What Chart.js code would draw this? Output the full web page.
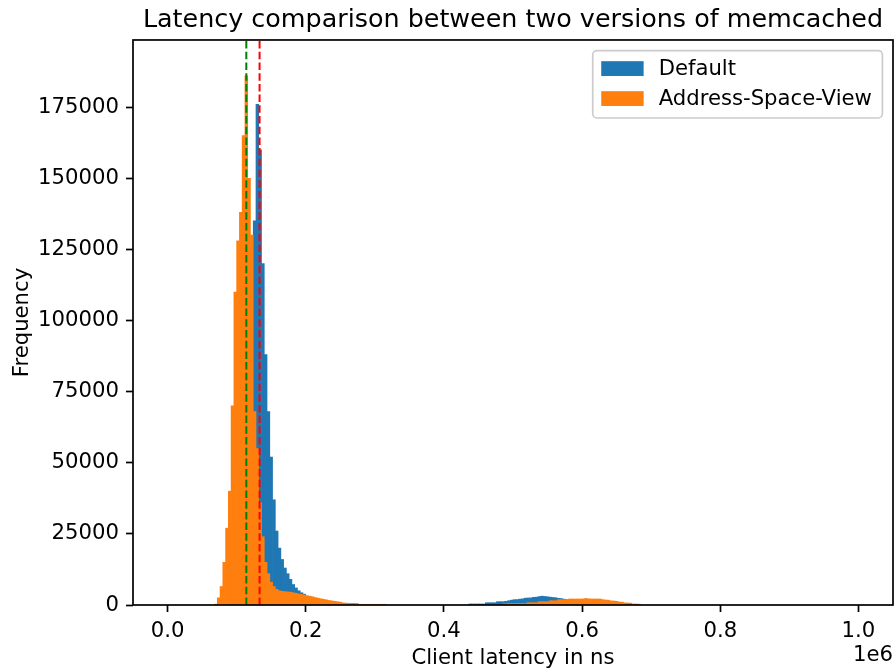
<!DOCTYPE html>
<html><head><meta charset="utf-8">
<script src="https://cdn.jsdelivr.net/npm/chart.js@4/dist/chart.umd.min.js"></script>
<style>html,body{margin:0;padding:0;background:#fff}canvas{display:block}</style>
</head><body>
<canvas id="c" width="894" height="672"></canvas>
<script>
// Histogram bins: left edge of bin 0 and width (ns)
const binStart = 68000;
const binWidth = 4000;

// Counts per bin
const defaultCounts = [
  0,0,0,0,0,1000,5000,15000,30000,50000,
  75000,100000,110000,125000,135000,176000,160000,120000,88000,68000,
  52000,37000,26000,20000,16000,13000,11000,9000,7200,6000,
  5000,4300,3800,3000,2500,2000,1600,1200,900,600,
  400,250,150,100,0,0,0,0,0,0,
  0,0,0,0,0,0,0,0,0,0,
  0,0,0,0,0,0,0,0,0,0,
  0,0,0,0,0,0,0,0,0,0,
  0,0,0,0,0,0,0,0,0,0,
  0,0,350,350,350,350,350,350,800,800,
  800,800,1170,1170,1170,1300,1500,1700,1870,1900,
  2050,2150,2400,2460,2500,2700,2750,2950,3100,3000,
  2900,2750,2650,2550,2350,2250,2050,1900,1700,1550,
  1400,1200,1050,900,750,600,450,350,250,150,
  80,0,0,0,0,0,0,0,0,0,
  0,0,0,0,0,0
];
const asvCounts = [
  300,2500,6500,15000,27000,40000,70000,110000,128000,138000,
  165000,186000,150000,130000,68000,55000,36000,24000,15000,11000,
  8000,6500,5500,5000,4800,4700,4600,4500,4300,4100,
  3900,3700,3500,3300,3100,2900,2600,2400,2200,2000,
  1800,1600,1450,1300,1150,1000,750,650,600,600,
  600,550,250,250,250,250,250,250,250,250,
  250,250,0,0,0,0,0,0,0,0,
  0,0,0,0,0,0,0,0,0,0,
  0,0,0,0,0,0,0,0,0,0,
  0,0,0,0,0,0,0,0,0,0,
  0,0,0,0,350,400,500,500,500,500,
  500,500,500,800,800,800,800,1170,1170,1170,
  1170,1500,1500,1500,1870,1870,1870,2000,2100,2100,
  2100,2100,2100,2150,2300,2150,2100,2100,2100,2100,
  1900,1750,1700,1450,1400,1300,1050,1000,750,700,
  650,350,350,300,0,0
];

const seriesLabels = ['Default', 'Address-Space-View'];
const seriesColors = ['#1f77b4', '#ff7f0e'];

// Vertical dashed marker lines (ns)
const markerValues = [114000, 133200];
const markerColors = ['#008000', '#ff0000'];

const xTickValues = [0, 200000, 400000, 600000, 800000, 1000000];
const yTickValues = [0, 25000, 50000, 75000, 100000, 125000, 150000, 175000];
const xRange = [-50000, 1050000];
const yRange = [0, 198600];

const titleText = 'Latency comparison between two versions of memcached';
const xTitle = 'Client latency in ns';
const yTitle = 'Frequency';
const xOffsetText = '1e6';

function toPoints(counts) {
  const pts = [];
  counts.forEach((c, i) => { if (c > 0) pts.push({ x: binStart + binWidth * (i + 0.5), y: c }); });
  return pts;
}

Chart.defaults.font.family = "'DejaVu Sans', sans-serif";
Chart.defaults.color = '#000';

const FS = 21.2;

const extras = {
  id: 'extras',
  afterDatasetsDraw(chart) {
    const { ctx, chartArea: a } = chart;
    ctx.save();
    ctx.strokeStyle = '#000';
    ctx.lineWidth = 1.7;
    ctx.strokeRect(a.left, a.top, a.right - a.left, a.bottom - a.top);
    ctx.restore();
  },
  afterDraw(chart) {
    const { ctx, chartArea: a } = chart;
    ctx.save();
    ctx.font = FS + "px 'DejaVu Sans'";
    ctx.fillStyle = '#000';
    ctx.textAlign = 'right';
    ctx.textBaseline = 'alphabetic';
    ctx.fillText(xOffsetText, a.right, 661);

    const pad = 8.5, handleW = 42.4, handleH = 14.8, gap = 17;
    const tw = Math.max(...seriesLabels.map(t => ctx.measureText(t).width));
    const right = a.right - 10.6;
    const top = a.top + 10.6;
    const width = pad + handleW + gap + tw + pad;
    const left = right - width;
    const height = 67.4;
    const r = 4.2;
    ctx.beginPath();
    ctx.moveTo(left + r, top);
    ctx.lineTo(right - r, top);
    ctx.arcTo(right, top, right, top + r, r);
    ctx.lineTo(right, top + height - r);
    ctx.arcTo(right, top + height, right - r, top + height, r);
    ctx.lineTo(left + r, top + height);
    ctx.arcTo(left, top + height, left, top + height - r, r);
    ctx.lineTo(left, top + r);
    ctx.arcTo(left, top, left + r, top, r);
    ctx.closePath();
    ctx.fillStyle = 'rgba(255,255,255,0.8)';
    ctx.fill();
    ctx.strokeStyle = '#cccccc';
    ctx.lineWidth = 1.7;
    ctx.stroke();
    ctx.textAlign = 'left';
    ctx.textBaseline = 'middle';
    seriesLabels.forEach((t, i) => {
      const cy = top + 18 + i * 30;
      ctx.fillStyle = seriesColors[i];
      ctx.fillRect(left + pad, cy - handleH / 2, handleW, handleH);
      ctx.fillStyle = '#000';
      ctx.fillText(t, left + pad + handleW + gap - 2, cy + 1);
    });
    ctx.restore();
  }
};

const datasets = [
  {
    type: 'bar', label: seriesLabels[0], data: toPoints(defaultCounts),
    backgroundColor: seriesColors[0], borderWidth: 0,
    barPercentage: 1, categoryPercentage: 1, grouped: false, order: 2
  },
  {
    type: 'bar', label: seriesLabels[1], data: toPoints(asvCounts),
    backgroundColor: seriesColors[1], borderWidth: 0,
    barPercentage: 1, categoryPercentage: 1, grouped: false, order: 1
  }
];
markerValues.forEach((v, i) => {
  datasets.push({
    type: 'line', label: 'marker' + i,
    data: [{ x: v, y: yRange[0] }, { x: v, y: yRange[1] }],
    borderColor: markerColors[i], borderWidth: 2, borderDash: [7.5, 3.2],
    pointRadius: 0, fill: false, tension: 0, order: 0
  });
});

new Chart(document.getElementById('c'), {
  type: 'bar',
  data: { datasets },
  options: {
    responsive: false,
    maintainAspectRatio: false,
    animation: false,
    devicePixelRatio: 1,
    datasets: { bar: { grouped: false, barPercentage: 1, categoryPercentage: 1 } },
    layout: { padding: { left: 0, right: 1, top: 0, bottom: 0 } },
    plugins: {
      legend: { display: false },
      tooltip: { enabled: false },
      title: {
        display: true, text: titleText, fullSize: false,
        font: { size: 25.4, weight: 'normal' }, color: '#000',
        padding: { top: 5, bottom: 4.5 }
      }
    },
    scales: {
      x: {
        type: 'linear', min: xRange[0], max: xRange[1], offset: false,
        grid: { display: true, offset: false, drawOnChartArea: false, drawTicks: true, tickLength: 7, tickWidth: 1.7, tickColor: '#000' },
        border: { display: false },
        ticks: { color: '#000', font: { size: FS }, padding: 7, maxRotation: 0, autoSkip: false, includeBounds: false,
          callback: v => (v / 1e6).toFixed(1) },
        afterBuildTicks: s => { s.ticks = xTickValues.map(v => ({ value: v })); },
        afterFit: s => { s.height = 67; },
        title: { display: true, text: xTitle, color: '#000', font: { size: FS }, padding: { top: 0, bottom: 1 } }
      },
      y: {
        type: 'linear', min: yRange[0], max: yRange[1],
        grid: { display: true, drawOnChartArea: false, drawTicks: true, tickLength: 7, tickWidth: 1.7, tickColor: '#000' },
        border: { display: false },
        ticks: { color: '#000', font: { size: FS }, padding: 7, autoSkip: false, includeBounds: false,
          callback: v => String(v) },
        afterBuildTicks: s => { s.ticks = yTickValues.map(v => ({ value: v })); },
        afterFit: s => { s.width = 133; },
        title: { display: true, text: yTitle, color: '#000', font: { size: FS }, padding: { top: 9.3, bottom: 0 } }
      }
    }
  },
  plugins: [extras]
});
</script>
</body></html>
